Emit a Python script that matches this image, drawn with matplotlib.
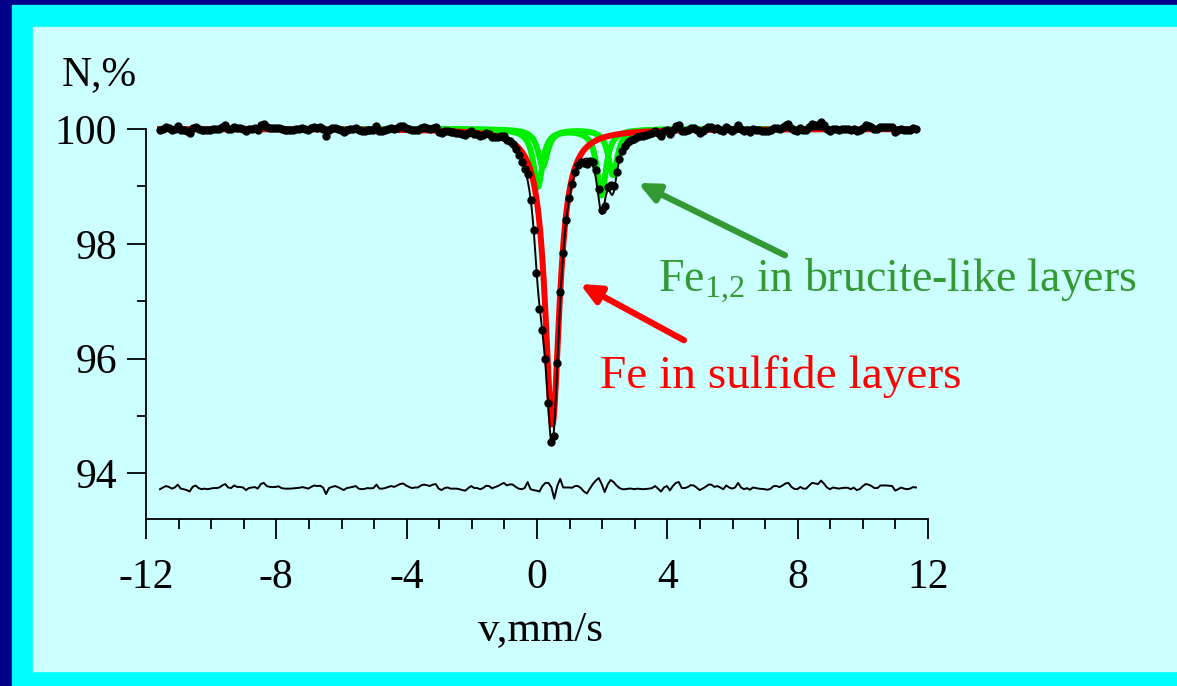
import numpy as np
import matplotlib
matplotlib.use("Agg")
import matplotlib.pyplot as plt
from matplotlib.patches import Rectangle
from matplotlib.ticker import MultipleLocator

plt.rcParams['font.family'] = 'Liberation Serif'
plt.rcParams['mathtext.fontset'] = 'custom'
plt.rcParams['mathtext.rm'] = 'Liberation Serif'
plt.rcParams['mathtext.it'] = 'Liberation Serif:italic'
plt.rcParams['axes.unicode_minus'] = False

# velocity channels (mm/s)
v_first, v_last, n_chan = -11.57, 11.63, 256

# fitted Lorentzian lines: centre (mm/s), half width (mm/s), depth (%)
sulfide_centre = [0.47]
sulfide_hw = [0.27]
sulfide_depth = [5.15]

brucite1_centre = [0.03, 1.98]
brucite1_hw = [0.17, 0.17]
brucite1_depth = [1.0, 1.15]

brucite2_centre = [0.18, 2.33]
brucite2_hw = [0.18, 0.17]
brucite2_depth = [0.65, 0.8]

# residual (data - fit), read channel by channel
resid = [
    -0.02, 0.01, 0.035, 0.02, -0.01, 0.01, 0.06, -0.01, -0.02, -0.035,
    -0.06, 0.02, 0.045, 0.0, -0.02, -0.01, -0.02, -0.01, 0.0, 0.0,
    0.01, 0.045, 0.07, 0.01, 0.0, 0.045, 0.02, 0.02, 0.01, -0.035,
    0.0, 0.01, 0.017, -0.01, 0.07, 0.09, 0.035, 0.02, 0.017, 0.02,
    0.03, 0.0, -0.01, -0.01, -0.01, -0.005, 0.0, 0.005, 0.017, 0.005,
    -0.01, 0.02, 0.045, 0.035, 0.04, 0.01, -0.105, 0.0, 0.02, 0.035,
    0.017, -0.01, -0.035, 0.0, 0.01, 0.02, 0.035, -0.01, -0.02, -0.015,
    0.0, -0.005, 0.0, 0.06, -0.01, -0.01, 0.0, 0.02, 0.035, 0.02,
    0.045, 0.07, 0.08, 0.045, 0.02, 0.0, 0.01, 0.01, 0.045, 0.06,
    0.05, 0.035, 0.06, 0.07, -0.01, -0.035, 0.0, 0.01, -0.01, -0.01,
    -0.01, -0.02, -0.035, -0.045, 0.0, 0.035, 0.0, 0.0, -0.02, 0.0,
    0.04, 0.035, -0.005, 0.017, 0.035, 0.065, 0.09, 0.045, 0.065, 0.06,
    0.02, -0.01, -0.02, 0.0, 0.105, -0.02, -0.035, -0.045, -0.06, 0.035,
    0.09, 0.09, 0.017, -0.185, 0.035, 0.16, 0.01, 0.01, 0.01, 0.005,
    0.035, 0.035, 0.0, -0.06, -0.095, -0.01, 0.07, 0.13, 0.175, 0.07,
    -0.07, 0.06, 0.14, 0.105, 0.045, 0.0, -0.02, -0.02, -0.01, -0.01,
    -0.02, -0.01, -0.015, -0.02, -0.015, -0.01, 0.0, 0.035, -0.01, -0.06,
    0.01, 0.035, -0.04, 0.035, 0.09, 0.105, 0.0, 0.0, 0.017, 0.05,
    0.045, 0.01, -0.035, -0.01, 0.02, 0.06, 0.06, 0.02, 0.035, 0.01,
    -0.02, 0.045, 0.01, -0.01, 0.01, 0.09, 0.01, -0.02, 0.0, -0.03,
    0.01, 0.0, -0.01, -0.015, -0.02, -0.03, -0.01, 0.035, 0.035, 0.017,
    0.045, 0.08, 0.09, 0.02, -0.015, -0.02, 0.02, -0.01, -0.01, 0.045,
    0.09, 0.08, 0.07, 0.13, 0.075, 0.01, -0.02, 0.01, 0.0, -0.01,
    0.0, 0.005, 0.005, -0.02, 0.01, -0.035, -0.02, 0.03, 0.07, 0.06,
    0.035, 0.0, 0.0, 0.045, 0.045, 0.045, 0.04, 0.035, -0.045, -0.02,
    0.01, -0.01, -0.02, -0.01, 0.017, 0.01,
]
resid_offset = 93.744


def lines(v, centre, hw, depth):
    out = np.zeros_like(v)
    for c, w, d in zip(centre, hw, depth):
        out += d * w**2 / ((v - c)**2 + w**2)
    return out


def total(x):
    return (100 - lines(x, sulfide_centre, sulfide_hw, sulfide_depth)
            - lines(x, brucite1_centre, brucite1_hw, brucite1_depth)
            - lines(x, brucite2_centre, brucite2_hw, brucite2_depth))


v = np.linspace(v_first, v_last, n_chan)
vf = np.linspace(v_first, v_last, 3000)

red_f = 100 - lines(vf, sulfide_centre, sulfide_hw, sulfide_depth)
g1_f = 100 - lines(vf, brucite1_centre, brucite1_hw, brucite1_depth)
g2_f = 100 - lines(vf, brucite2_centre, brucite2_hw, brucite2_depth)
fit_f = total(vf)
data = total(v) + np.array(resid)

W, H = 1177, 686
fig = plt.figure(figsize=(W / 100, H / 100), dpi=100)
fig.patch.set_facecolor('#000088')


def fig_rect(x0, y0, x1, y1, color):
    fig.add_artist(Rectangle((x0 / W, 1 - y1 / H), (x1 - x0) / W, (y1 - y0) / H,
                             transform=fig.transFigure, color=color, zorder=-10))


fig_rect(12, 5, W, H, '#00ffff')
fig_rect(33, 27, W, 671, '#ccffff')

ax = fig.add_axes([146 / W, 1 - 519 / H, 782 / W, (519 - 129) / H])
ax.set_facecolor('none')

ax.plot(vf, g1_f, color='#00ee00', lw=4.3, clip_on=False, zorder=2)
ax.plot(vf, g2_f, color='#00ee00', lw=4.3, clip_on=False, zorder=2)
ax.plot(vf, red_f, color='#ff0000', lw=4.3, clip_on=False, zorder=3)
ax.plot(vf, fit_f, color='black', lw=1.4, clip_on=False, zorder=4)
ax.plot(v, data, 'o', color='black', ms=5, clip_on=False, zorder=5)
ax.plot(v, resid_offset + np.array(resid), color='black', lw=1.4, clip_on=False)

ax.set_xlim(-12, 12)
ax.set_ylim(93.205, 100)
ax.spines['top'].set_visible(False)
ax.spines['right'].set_visible(False)
for s in ['left', 'bottom']:
    ax.spines[s].set_linewidth(1.3)
ax.xaxis.set_major_locator(MultipleLocator(4))
ax.xaxis.set_minor_locator(MultipleLocator(1))
ax.yaxis.set_minor_locator(MultipleLocator(1))
ax.set_yticks([94, 96, 98, 100])
ax.tick_params(axis='x', which='major', direction='out', length=14.4, width=1.3,
               labelsize=30, pad=14)
ax.tick_params(axis='x', which='minor', direction='out', length=7.2, width=1.3)
ax.tick_params(axis='y', which='major', direction='out', length=13.7, width=1.3,
               labelsize=30, pad=7)
ax.tick_params(axis='y', which='minor', direction='out', length=6.5, width=1.3)

fig.text(62 / W, 1 - 85 / H, 'N,%', fontsize=30, ha='left', va='baseline')
fig.text(540 / W, 1 - 640 / H, 'v,mm/s', fontsize=31, ha='center', va='baseline')

green_txt = '#339933'
ax.annotate('', xy=(3.10, 99.06), xytext=(7.61, 97.80),
            arrowprops=dict(arrowstyle='-|>,head_length=1.2,head_width=0.55',
                            color=green_txt, lw=4.5, shrinkA=0, shrinkB=0),
            annotation_clip=False)
ax.annotate('', xy=(1.32, 97.30), xytext=(4.51, 96.32),
            arrowprops=dict(arrowstyle='-|>,head_length=1.2,head_width=0.55',
                            color='#ff0000', lw=4.5, shrinkA=0, shrinkB=0),
            annotation_clip=False)
ax.text(3.71, 97.16, r'Fe$_{\mathrm{1{,}2}}$ in brucite-like layers', fontsize=33,
        color=green_txt, ha='left', va='baseline', clip_on=False)
ax.text(1.935, 95.49, 'Fe in sulfide layers', fontsize=34, color='#ff0000',
        ha='left', va='baseline', clip_on=False)

fig.savefig('out.png', dpi=100, facecolor=fig.get_facecolor())
